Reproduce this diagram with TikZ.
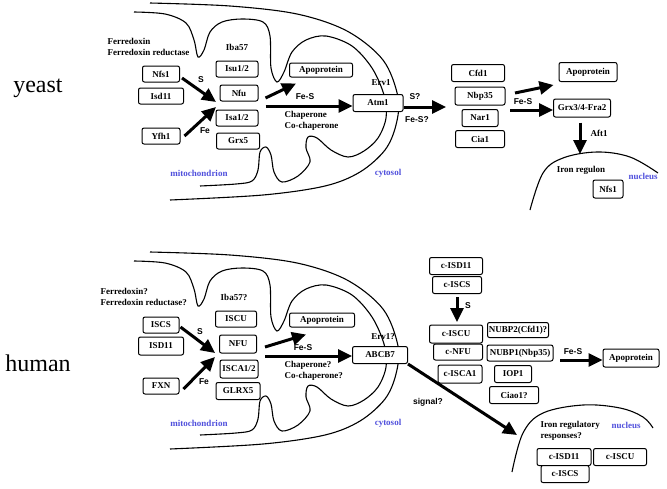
\documentclass[tikz,border=0pt]{standalone}
\usepackage{fontspec}
\setmainfont{Liberation Serif}
\setsansfont{Liberation Sans}
\usepackage{tikz}
\usetikzlibrary{arrows.meta}
\definecolor{mitoblue}{RGB}{80,80,220}

\begin{document}
\begin{tikzpicture}[x=1pt,y=-1pt,
  box/.style={draw, rounded corners=2pt, fill=white, line width=1pt, inner xsep=1pt, inner ysep=0pt, minimum height=16pt, font=\fontsize{9}{10}\selectfont\bfseries},
  lbl/.style={font=\fontsize{9}{11}\selectfont\bfseries, align=left},
  sig/.style={font=\fontsize{8.5}{10}\selectfont\sffamily\bfseries},
  place/.style={font=\fontsize{9}{10}\selectfont\bfseries, text=mitoblue},
  species/.style={font=\fontsize{24}{28}\selectfont},
  arr/.style={line width=3pt, -{Triangle[length=14pt,width=13pt]}},
  mem/.style={line width=1.1pt}]
\useasboundingbox (0,0) rectangle (667,488);

% membranes, same outline for both organisms
\foreach \dy in {0,249} {
  \begin{scope}[yshift=-\dy pt]
    \draw[mem] plot[smooth, tension=0.55] coordinates {(150,3) (230,6) (297,14) (347,31) (383,60) (398,97) (396,125) (385,150) (360,172) (325,186) (263,195) (170,200)};
    \draw[mem] plot[smooth, tension=0.55] coordinates {(134,12) (165,14) (186,23) (194,40) (198,57) (204,50) (210,32) (222,22) (242,19) (263,22) (270,36) (271,68) (277,82) (284,72) (292,52) (306,40) (326,36) (352,46) (372,68) (384,95) (386,118) (378,138) (364,151) (348,157) (331,150) (317,138) (308,137) (306,148) (310,162) (298,176) (282,182) (274,172) (271,155) (266,147) (260,152) (258,170) (252,181) (236,184) (200,186)};
  \end{scope}
}
\draw[mem] plot[smooth, tension=0.6] coordinates {(530,210) (543,173) (563,158) (597,152) (630,157) (658,173)};
\draw[mem] plot[smooth, tension=0.6] coordinates {(512,472) (523,433) (543,413) (583,405) (620,408) (643,417) (653,428)};

% yeast
\node[species] (yeast) at (38,88) {yeast};
\node[lbl, anchor=west] (fdx) at (104,47) {Ferredoxin\\Ferredoxin reductase};
\node[box, minimum width=37pt] (nfs) at (161,74) {Nfs1};
\node[box, minimum width=45pt] (isd) at (161,96) {Isd11};
\node[box, minimum width=38pt] (yfh) at (161,136) {Yfh1};
\node[lbl] (iba) at (237,47) {Iba57};
\node[box, minimum width=42pt] (isu) at (237,69) {Isu1/2};
\node[box, minimum width=38pt] (nfu) at (239,93) {Nfu};
\node[box, minimum width=42pt] (isa) at (237,118) {Isa1/2};
\node[box, minimum width=43pt] (grx) at (238,141) {Grx5};
\coordinate (ys) at (216,102);
\coordinate (yf) at (216,107);
\draw[arr] ([shift={(2pt,-4pt)}]nfs.east) -- (ys);
\draw[arr] ([shift={(4pt,0pt)}]yfh.east) -- (yf);
\node[sig] (s1) at (201,80) {S};
\node[sig] (fe1) at (205,131) {Fe};
\node[box, minimum width=63pt, minimum height=14pt] (apo1) at (321,70) {Apoprotein};
\node[box, minimum width=50pt, minimum height=17pt] (atm) at (378,103) {Atm1};
\draw[arr] ([shift={(7pt,-5pt)}]nfu.east) -- ([shift={(7pt,-6pt)}]apo1.south west);
\draw[arr] ([shift={(7pt,-13pt)}]nfu.east) coordinate (yb) -- (yb -| atm.west);
\node[sig] (fes1) at (305,97) {Fe-S};
\node[lbl, anchor=west] (chap1) at (281,121) {Chaperone\\Co-chaperone};
\node[lbl] (erv1) at (381,83) {Erv1};
\node[place] (mito1) at (199,173) {mitochondrion};
\node[place] (cyto1) at (388,173) {cytosol};
\coordinate (yc) at (446,107);
\draw[arr] ([yshift=-4pt]atm.east) -- (yc);
\node[sig] (sq) at (415,97) {S?};
\node[sig] (fesq) at (417,120) {Fe-S?};
\node[box, minimum width=53pt, minimum height=17pt] (cfd) at (478,73) {Cfd1};
\node[box, minimum width=50pt, minimum height=18pt] (nbp) at (480,96) {Nbp35};
\node[box, minimum width=36pt, minimum height=17pt] (nar) at (480,118) {Nar1};
\node[box, minimum width=49pt, minimum height=17pt] (cia) at (480,139) {Cia1};
\node[box, minimum width=58pt, minimum height=19pt] (apo2) at (588,72) {Apoprotein};
\node[box, minimum width=57pt, minimum height=18pt] (grxf) at (582,108) {Grx3/4-Fra2};
\coordinate (ya) at (515,93);
\coordinate (yg) at (510,110);
\draw[arr] (ya) -- ([shift={(-5pt,-3pt)}]apo2.south west);
\draw[arr] (yg) -- (yg -| grxf.west);
\node[sig] (fes2) at (523,102) {Fe-S};
\coordinate (yn) at (580,154);
\draw[arr] ([yshift=-5pt]grxf.south -| yn) -- (yn);
\node[lbl, anchor=west] (aft) at (587,133) {Aft1};
\node[lbl] (iron) at (581,170) {Iron regulon};
\node[place] (nuc1) at (643,176) {nucleus};
\node[box, minimum width=30pt, minimum height=18pt] (nfs2) at (608,189) {Nfs1};

% human
\node[species] (human) at (38,363) {human};
\node[lbl, anchor=west] (fdxh) at (97,297) {Ferredoxin?\\Ferredoxin reductase?};
\node[lbl] (ibah) at (234,297) {Iba57?};
\node[box, minimum width=36pt] (iscs) at (161,325) {ISCS};
\node[box, minimum width=45pt, minimum height=18pt] (isd11) at (161,346) {ISD11};
\node[box, minimum width=36pt] (fxn) at (161,386) {FXN};
\node[box, minimum width=41pt] (iscu) at (236,319) {ISCU};
\node[box, minimum width=37pt, minimum height=18pt] (nfuh) at (238,344) {NFU};
\node[box, minimum width=38pt, minimum height=18pt] (isca) at (239,369) {ISCA1/2};
\node[box, minimum width=44pt, minimum height=17pt] (glrx) at (238,391) {GLRX5};
\coordinate (hs) at (215,353);
\coordinate (hf) at (215,357);
\draw[arr] ([shift={(1pt,-2pt)}]iscs.east) -- (hs);
\draw[arr] ([shift={(4pt,-3pt)}]fxn.east) -- (hf);
\node[sig] (s2) at (200,332) {S};
\node[sig] (fe2) at (204,382) {Fe};
\node[box, minimum width=65pt, minimum height=14pt] (apo3) at (322,320) {Apoprotein};
\node[box, minimum width=55pt, minimum height=17pt] (abcb) at (380,355) {ABCB7};
\draw[arr] ([shift={(8pt,-3pt)}]nfuh.east) -- ([shift={(17pt,-7pt)}]apo3.south west);
\draw[arr] ([shift={(8pt,-12pt)}]nfuh.east) coordinate (hb) -- (hb -| abcb.west);
\node[sig] (fes3) at (303,348) {Fe-S};
\node[lbl, anchor=west] (chap2) at (281,371) {Chaperone?\\Co-chaperone?};
\node[lbl] (erv2) at (383,337) {Erv1?};
\node[place] (mito2) at (199,423) {mitochondrion};
\node[place] (cyto2) at (388,423) {cytosol};
\node[box, minimum width=53pt, minimum height=17pt] (cisd) at (456,266) {c-ISD11};
\node[box, minimum width=49pt, minimum height=17pt] (ciscs) at (457,285) {c-ISCS};
\coordinate (hc) at (457,322);
\draw[arr] ([yshift=-3pt]ciscs.south) -- (hc);
\node[sig] (s3) at (468,306) {S};
\node[box, minimum width=53pt, minimum height=18pt] (ciscu) at (456,334) {c-ISCU};
\node[box, minimum width=49pt, minimum height=16pt] (cnfu) at (458,352) {c-NFU};
\node[box, minimum width=44pt, minimum height=18pt] (cisca) at (460,374) {c-ISCA1};
\node[box, minimum width=61pt, minimum height=15pt] (nubpa) at (518,330) {NUBP2(Cfd1)?};
\node[box, minimum width=66pt, minimum height=16pt] (nubpb) at (520,353) {NUBP1(Nbp35)};
\node[box, minimum width=37pt, minimum height=17pt] (iop) at (513,374) {IOP1};
\node[box, minimum width=49pt, minimum height=17pt] (ciao) at (514,395) {Ciao1?};
\node[box, minimum width=56pt, minimum height=18pt] (apo4) at (631,358) {Apoprotein};
\coordinate (hx) at (560,360);
\draw[arr] (hx) -- (hx -| apo4.west);
\node[sig] (fes4) at (573,352) {Fe-S};
\coordinate (hn) at (517,435);
\draw[arr] (abcb.south east) -- (hn);
\node[sig] (sigq) at (428,402) {signal?};
\node[lbl, anchor=west] (irr) at (537,431) {Iron regulatory\\responses?};
\node[place] (nuc2) at (626,425) {nucleus};
\node[box, minimum width=54pt, minimum height=17pt] (nisd) at (564,457) {c-ISD11};
\node[box, minimum width=48pt, minimum height=17pt] (niscs) at (565,474) {c-ISCS};
\node[box, minimum width=53pt, minimum height=17pt] (niscu) at (620,457) {c-ISCU};
\end{tikzpicture}
\end{document}
